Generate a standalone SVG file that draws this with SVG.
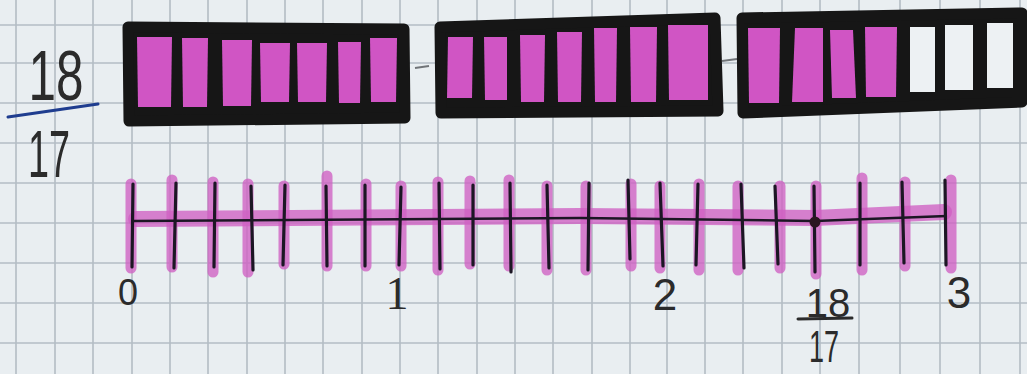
<svg xmlns="http://www.w3.org/2000/svg" width="1027" height="374" viewBox="0 0 1027 374">
<defs>
<style>
.grid line{stroke:#b3bcc4;stroke-width:1.6}
.frame{fill:#161616;stroke:#161616;stroke-width:11;stroke-linejoin:round}
.cell{fill:#d055c4}
.empty{fill:#edf1f3}
.pencil{stroke:#707478;stroke-width:2;fill:none}
.hl{stroke:#d060c3;stroke-opacity:0.78;stroke-linecap:round;fill:none}
.tick{stroke:#1c1624;stroke-width:3.2;stroke-linecap:round}
.lbl{font-family:"Liberation Sans",Arial,sans-serif;fill:#2b2b2b;text-anchor:middle}
.lbls{font-family:"Liberation Serif","Times New Roman",serif;fill:#2b2b2b;text-anchor:middle}
</style>
</defs>
<rect width="1027" height="374" fill="#e9eef1"/>
<g class="grid">
<line x1="16" y1="0" x2="16" y2="374"/><line x1="55" y1="0" x2="55" y2="374"/><line x1="93" y1="0" x2="93" y2="374"/><line x1="132" y1="0" x2="132" y2="374"/><line x1="170" y1="0" x2="170" y2="374"/><line x1="208" y1="0" x2="208" y2="374"/><line x1="247" y1="0" x2="247" y2="374"/><line x1="285" y1="0" x2="285" y2="374"/><line x1="323" y1="0" x2="323" y2="374"/><line x1="362" y1="0" x2="362" y2="374"/><line x1="400" y1="0" x2="400" y2="374"/><line x1="438" y1="0" x2="438" y2="374"/><line x1="477" y1="0" x2="477" y2="374"/><line x1="515" y1="0" x2="515" y2="374"/><line x1="553" y1="0" x2="553" y2="374"/><line x1="592" y1="0" x2="592" y2="374"/><line x1="630" y1="0" x2="630" y2="374"/><line x1="667" y1="0" x2="667" y2="374"/><line x1="705" y1="0" x2="705" y2="374"/><line x1="743" y1="0" x2="743" y2="374"/><line x1="782" y1="0" x2="782" y2="374"/><line x1="820" y1="0" x2="820" y2="374"/><line x1="859" y1="0" x2="859" y2="374"/><line x1="900" y1="0" x2="900" y2="374"/><line x1="940" y1="0" x2="940" y2="374"/><line x1="980" y1="0" x2="980" y2="374"/><line x1="1020" y1="0" x2="1020" y2="374"/>
<line x1="0" y1="25" x2="1027" y2="25"/><line x1="0" y1="63" x2="1027" y2="63"/><line x1="0" y1="103" x2="1027" y2="103"/><line x1="0" y1="143" x2="1027" y2="143"/><line x1="0" y1="183" x2="1027" y2="183"/><line x1="0" y1="223" x2="1027" y2="223"/><line x1="0" y1="263" x2="1027" y2="263"/><line x1="0" y1="303" x2="1027" y2="303"/><line x1="0" y1="343" x2="1027" y2="343"/>
</g>
<g id="fraction-left">
<text class="lbl" x="56" y="100" font-size="70" textLength="55" lengthAdjust="spacingAndGlyphs">18</text>
<line x1="8" y1="117" x2="98" y2="104" stroke="#1f3d8f" stroke-width="3" stroke-linecap="round"/>
<text class="lbl" x="49" y="177" font-size="66" textLength="42" lengthAdjust="spacingAndGlyphs">17</text>
</g>
<g id="connectors">
<line class="pencil" x1="415" y1="68" x2="429" y2="66"/>
<line class="pencil" x1="722" y1="61" x2="737" y2="59"/>
</g>
<g id="bar1">
<path class="frame" d="M128,27 L404,29 L405,118 L129,121 Z"/>
<polygon class="cell" points="137,37 172,37 171,107 138,107"/>
<polygon class="cell" points="182,38 208,38 207,107 183,107"/>
<polygon class="cell" points="222,40 252,40 251,106 223,106"/>
<polygon class="cell" points="260,43 290,43 289,102 261,102"/>
<polygon class="cell" points="297,43 327,43 326,102 298,102"/>
<polygon class="cell" points="338,42 361,42 360,103 339,103"/>
<polygon class="cell" points="370,38 397,38 396,102 371,102"/>
</g>
<g id="bar2">
<path class="frame" d="M440,27 L715,18 L718,111 L441,113 Z"/>
<polygon class="cell" points="448,37 473,37 472,98 447,98"/>
<polygon class="cell" points="484,37 507,37 507,100 485,100"/>
<polygon class="cell" points="520,35 545,35 544,102 521,102"/>
<polygon class="cell" points="557,32 582,32 581,102 558,102"/>
<polygon class="cell" points="594,28 617,28 616,102 595,102"/>
<polygon class="cell" points="630,27 657,27 656,102 631,102"/>
<polygon class="cell" points="668,25 708,25 708,100 669,100"/>
</g>
<g id="bar3">
<path class="frame" d="M742,18 L1022,13 L1022,102 L743,113 Z"/>
<polygon class="cell" points="748,28 780,28 779,103 749,103"/>
<polygon class="cell" points="795,28 823,28 823,102 792,102"/>
<polygon class="cell" points="830,30 853,30 856,98 832,98"/>
<polygon class="cell" points="865,27 897,27 896,97 866,97"/>
<polygon class="empty" points="910,27 935,27 935,92 910,92"/>
<polygon class="empty" points="945,25 973,25 973,90 945,90"/>
<polygon class="empty" points="987,23 1013,23 1013,88 987,88"/>
</g>
<g id="number-line">
<polyline class="hl" stroke-width="16" points="136,219 580,216 815,218 944,212"/>
<g class="hl" stroke-width="11">
<line x1="131" y1="184" x2="131" y2="268"/><line x1="172" y1="180" x2="172" y2="267"/><line x1="213" y1="182" x2="213" y2="272"/><line x1="248" y1="184" x2="248" y2="272"/><line x1="284" y1="186" x2="284" y2="264"/><line x1="327" y1="176" x2="327" y2="266"/><line x1="366" y1="184" x2="366" y2="266"/><line x1="401" y1="186" x2="401" y2="266"/><line x1="438" y1="182" x2="438" y2="270"/><line x1="470" y1="181" x2="470" y2="264"/><line x1="509" y1="180" x2="509" y2="266"/><line x1="547" y1="186" x2="547" y2="270"/><line x1="586" y1="186" x2="586" y2="270"/><line x1="631" y1="184" x2="631" y2="266"/><line x1="660" y1="186" x2="660" y2="268"/><line x1="699" y1="184" x2="699" y2="270"/><line x1="738" y1="186" x2="738" y2="270"/><line x1="780" y1="186" x2="780" y2="268"/><line x1="816" y1="186" x2="816" y2="274"/><line x1="862" y1="178" x2="862" y2="270"/><line x1="905" y1="182" x2="905" y2="266"/><line x1="951" y1="180" x2="951" y2="268"/>
</g>
<polyline points="133,221 580,218 815,221 947,216" fill="none" stroke="#1c1624" stroke-width="2.5"/>
<line class="tick" x1="133" y1="184" x2="132" y2="267"/><line class="tick" x1="176" y1="183" x2="174" y2="268"/><line class="tick" x1="215" y1="183" x2="214" y2="267"/><line class="tick" x1="251" y1="186" x2="253" y2="270"/><line class="tick" x1="285" y1="185" x2="283" y2="265"/><line class="tick" x1="326" y1="186" x2="327" y2="266"/><line class="tick" x1="365" y1="185" x2="365" y2="266"/><line class="tick" x1="401" y1="187" x2="399" y2="265"/><line class="tick" x1="439" y1="183" x2="440" y2="269"/><line class="tick" x1="473" y1="185" x2="473" y2="265"/><line class="tick" x1="510" y1="183" x2="511" y2="272"/><line class="tick" x1="547" y1="185" x2="549" y2="268"/><line class="tick" x1="589" y1="183" x2="588" y2="270"/><line class="tick" x1="628" y1="180" x2="630" y2="259"/><line class="tick" x1="660" y1="183" x2="663" y2="266"/><line class="tick" x1="698" y1="184" x2="696" y2="265"/><line class="tick" x1="741" y1="184" x2="744" y2="268"/><line class="tick" x1="775" y1="186" x2="778" y2="264"/><line class="tick" x1="814" y1="186" x2="815" y2="272"/><line class="tick" x1="860" y1="183" x2="860" y2="265"/><line class="tick" x1="902" y1="182" x2="904" y2="263"/><line class="tick" x1="945" y1="180" x2="946" y2="265"/>
<circle cx="815" cy="222" r="5.5" fill="#2a1620"/>
</g>
<g id="labels">
<text class="lbl" x="128" y="305" font-size="36">0</text>
<text class="lbls" x="397" y="309" font-size="46">1</text>
<text class="lbl" x="665" y="310" font-size="44">2</text>
<text class="lbl" x="959" y="308" font-size="44">3</text>
<text class="lbl" x="828" y="317" font-size="40">18</text>
<line x1="798" y1="319" x2="852" y2="318" stroke="#2b2b2b" stroke-width="3" stroke-linecap="round"/>
<text class="lbl" x="824" y="362" font-size="44" textLength="30" lengthAdjust="spacingAndGlyphs">17</text>
</g>
</svg>
